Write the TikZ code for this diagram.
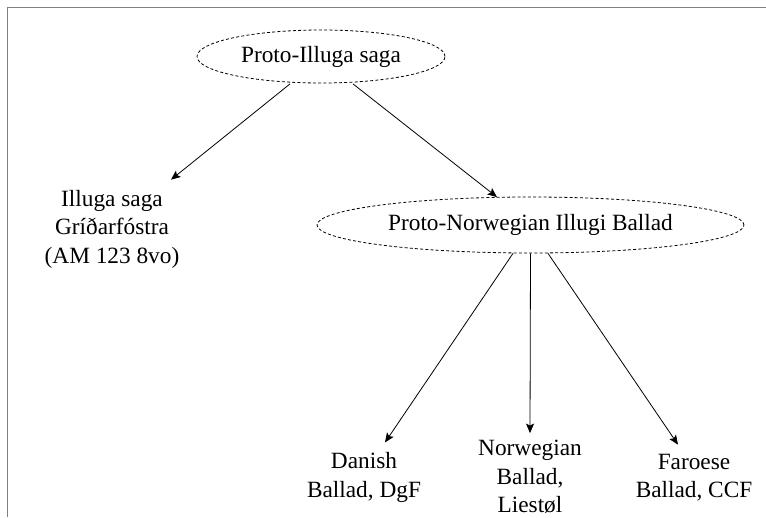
\documentclass[tikz,border=0pt]{standalone}
\usepackage{fontspec}
\setmainfont{Liberation Serif}
\usetikzlibrary{shapes.geometric,arrows.meta}
\begin{document}
\begin{tikzpicture}[x=1pt,y=-1pt,
  proto/.style={ellipse,draw,dashed,dash pattern=on 3pt off 2.2pt,line width=0.8pt,inner sep=0pt,font=\fontsize{23.3}{28.5}\selectfont},
  leaf/.style={align=center,inner sep=0pt,font=\fontsize{23.3}{28.5}\selectfont},
  arr/.style={-{Stealth[length=9.5pt,width=8pt,inset=2pt]},line width=0.8pt},
  frame/.style={draw=black!50,line width=1.6pt}]
\useasboundingbox (0,0) rectangle (766,517);
\draw[frame] (7.5,517) -- (7.5,7.5) -- (766,7.5);
\node[proto,minimum width=248pt,minimum height=53pt] (p1) at (321,56.5) {Proto-Illuga saga};
\node[proto,minimum width=427pt,minimum height=56pt] (p2) at (530.5,225) {Proto-Norwegian Illugi Ballad};
\node[leaf] (saga) at (112,229) {Illuga saga\\Gríðarfóstra\\(AM 123 8vo)};
\node[leaf] (dan) at (364,477.5) {Danish\\Ballad, DgF};
\node[leaf] (nor) at (530,477) {Norwegian\\Ballad,\\Liestøl};
\node[leaf] (far) at (694,477.5) {Faroese\\Ballad, CCF};
\draw[arr] ([xshift=-31pt,yshift=-0.5pt]p1.south) -- ([xshift=59pt,yshift=10pt]saga.north);
\draw[arr] ([xshift=32pt,yshift=-0.5pt]p1.south) -- ([xshift=-33.5pt,yshift=-0.5pt]p2.north);
\draw[arr] ([xshift=-17.5pt]p2.south) -- ([xshift=21pt,yshift=10pt]dan.north);
\draw[arr] (p2.south) -- ([yshift=7pt]nor.north);
\draw[arr] ([xshift=17.5pt]p2.south) -- ([xshift=-16pt,yshift=9pt]far.north);
\end{tikzpicture}
\end{document}
